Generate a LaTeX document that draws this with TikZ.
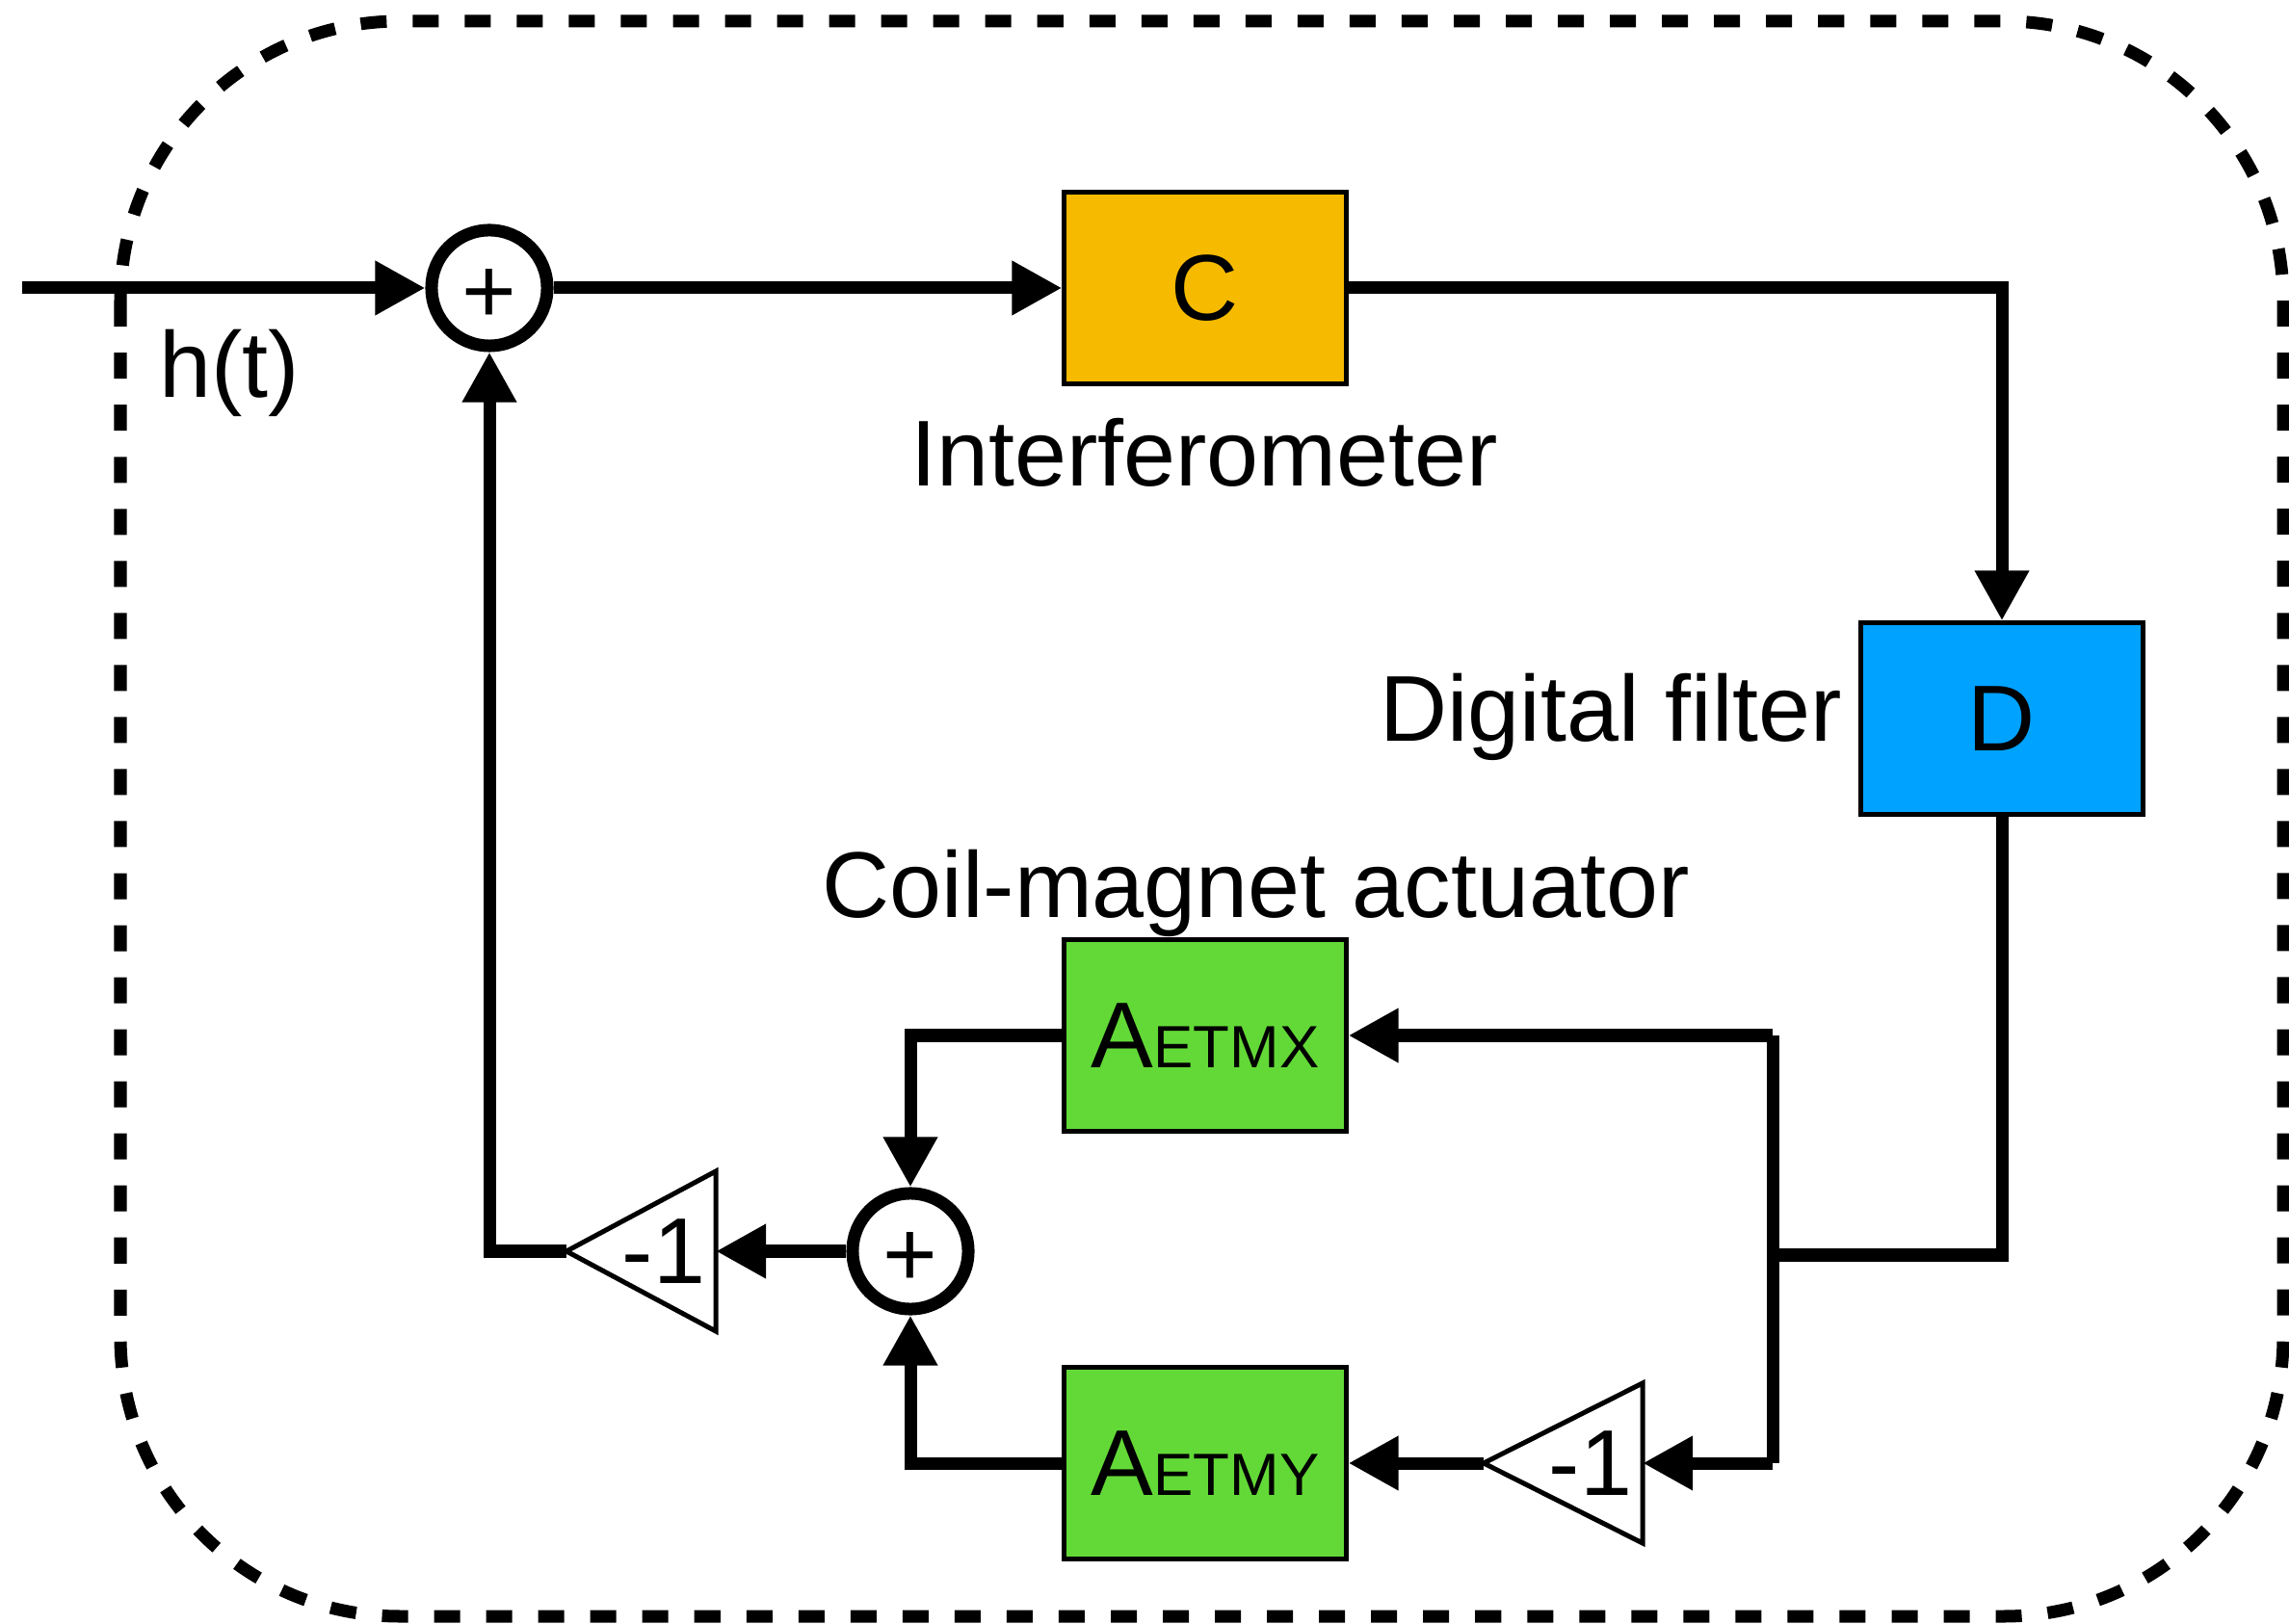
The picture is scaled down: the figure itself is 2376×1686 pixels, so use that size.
\documentclass[tikz,border=0pt]{standalone}
\usepackage{fontspec}
\setmainfont{Liberation Sans}
\usetikzlibrary{arrows.meta}
\newcommand\lblfont{\fontsize{27.6pt}{33pt}\selectfont}
\newcommand\subfont{\fontsize{17.6pt}{21pt}\selectfont}
\newcommand\plussign{\smash{\raisebox{-0.36cm}{+}}}
\definecolor{corange}{RGB}{246,186,0}
\definecolor{cblue}{RGB}{0,162,255}
\definecolor{cgreen}{RGB}{99,217,55}
\begin{document}
\begin{tikzpicture}[x=0.01cm,y=-0.01cm,
  wire/.style={line width=0.13cm},
  arr/.style={wire,-{Triangle[length=0.52cm,width=0.53cm]}},
  blk/.style={draw,line width=0.05cm,minimum width=2.92cm,minimum height=1.98cm,inner sep=0pt,font=\lblfont},
  sumnode/.style={circle,draw,line width=0.13cm,fill=white,minimum size=1.2cm,inner sep=0pt,font=\lblfont},
  tribox/.style={rectangle,minimum height=1.66cm,inner sep=0pt,outer sep=0pt},
  tri/.style={draw,line width=0.05cm,fill=white,line join=miter},
  lbl/.style={font=\lblfont,inner sep=0pt}
]
\useasboundingbox (0,0) rectangle (2376,1686);
% dashed frame
\draw[line width=0.13cm,dash pattern=on 0.27cm off 0.27cm,rounded corners=2.9cm] (125,22) rectangle (2370,1678);

% blocks
\node[blk,fill=corange] (C) at (1251,299) {C};
\node[blk,fill=cblue] (D) at (2078,746) {D};
\node[blk,fill=cgreen] (AX) at (1251,1075) {A{\subfont ETMX}};
\node[blk,fill=cgreen] (AY) at (1251,1519) {A{\subfont ETMY}};

% summing junctions
\node[sumnode] (S1) at (508,299) {\plussign};
\node[sumnode] (S2) at (945,1299) {\plussign};

% gain triangles (pointing left)
\node[tribox,minimum width=1.55cm] (N1) at (665.5,1299) {};
\draw[tri] (N1.north east) -- (N1.west) -- (N1.south east) -- cycle;
\node[lbl] (N1t) at (689,1299) {-1};
\node[tribox,minimum width=1.65cm] (N2) at (1622.5,1519) {};
\draw[tri] (N2.north east) -- (N2.west) -- (N2.south east) -- cycle;
\node[lbl] (N2t) at (1651,1519) {-1};

% labels
\node[lbl,anchor=base west] (ht) at (165,413) {h(t)};
\node[lbl,anchor=base] (ifo) at (1250,505) {Interferometer};
\node[lbl,anchor=base east] (df) at (1913,770) {Digital filter};
\node[lbl,anchor=base] (cma) at (1304,953) {Coil-magnet actuator};

% junction coordinates
\coordinate (in) at (23,299);
\coordinate (j1) at (1840,1303);
\coordinate (jx) at (1840,1075);
\coordinate (jy) at (1840,1519);

% connectors
\draw[arr] (in) -- (S1.west);
\draw[arr] (S1.east) -- (C.west);
\draw[arr] (C.east) -| (D.north);
\draw[wire] (D.south) |- (j1);
\draw[wire] (jx) -- (jy);
\draw[arr] (jx) -- (AX.east);
\draw[arr] (jy) -- (N2.east);
\draw[arr] (N2.west) -- (AY.east);
\draw[arr] (AX.west) -| (S2.north);
\draw[arr] (AY.west) -| (S2.south);
\draw[arr] (S2.west) -- (N1.east);
\draw[arr] (N1.west) -| (S1.south);
\end{tikzpicture}
\end{document}
